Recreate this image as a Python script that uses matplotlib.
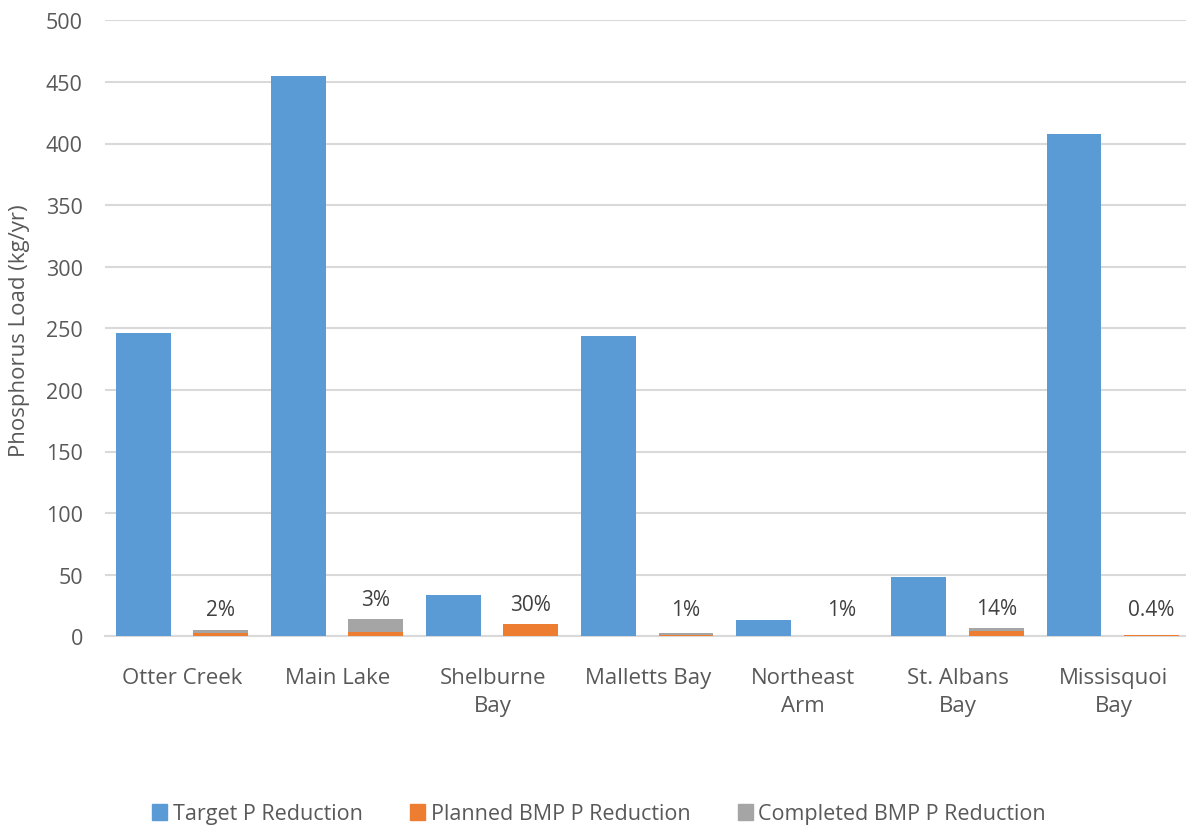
import matplotlib
matplotlib.use("Agg")
import matplotlib.pyplot as plt
from matplotlib.patches import Patch
import numpy as np

plt.rcParams["font.family"] = ["Open Sans", "DejaVu Sans"]

categories = ["Otter Creek", "Main Lake", "Shelburne\nBay", "Malletts Bay",
              "Northeast\nArm", "St. Albans\nBay", "Missisquoi\nBay"]
target = [246, 455, 33.5, 244, 13, 48.5, 408]
planned = [3.0, 3.6, 10.0, 1.3, 0.1, 4.5, 1.2]
completed = [2.0, 10.5, 0.0, 1.2, 0.05, 2.2, 0.0]
pct_labels = ["2%", "3%", "30%", "1%", "1%", "14%", "0.4%"]
yticks = [0, 50, 100, 150, 200, 250, 300, 350, 400, 450, 500]

BLUE = "#5B9BD5"
ORANGE = "#ED7D31"
GRAY = "#A5A5A5"
TEXT = "#595959"
GRID = "#D9D9D9"

W, H = 1186, 828
fig = plt.figure(figsize=(W / 100, H / 100), dpi=100)
ax = fig.add_axes([105 / W, 190.7 / H, 1081 / W, 616 / H])

x = np.arange(len(categories))
bw = 0.354
ax.bar(x - 0.254, target, bw, color=BLUE, zorder=3)
ax.bar(x + 0.245, planned, bw, color=ORANGE, linewidth=0, zorder=3)
ax.bar(x + 0.245, completed, bw, bottom=planned, color=GRAY, linewidth=0, zorder=3)

for xi, p, c, lab in zip(x, planned, completed, pct_labels):
    top = p + c
    ax.text(xi + 0.245, max(top + 7, 13.0), lab, ha="center", va="bottom",
            fontsize=15, color="#404040", zorder=4)

ax.set_xlim(-0.5, 6.468)
ax.set_ylim(0, 500)
ax.set_yticks(yticks)
ax.set_xticks(x)
ax.set_xticklabels(categories)
ax.yaxis.grid(True, color=GRID, linewidth=1.5, zorder=0)
ax.set_axisbelow(True)
for s in ["top", "right", "left"]:
    ax.spines[s].set_visible(False)
ax.spines["bottom"].set_color(GRID)
ax.spines["bottom"].set_linewidth(1.5)
ax.tick_params(axis="y", length=0, pad=16, labelsize=15.5, labelcolor=TEXT)
ax.tick_params(axis="x", length=0, pad=22, labelsize=16, labelcolor=TEXT)
for t in ax.get_xticklabels():
    t.set_linespacing(1.45)

fig.text(20 / W, 1 - 331 / H, "Phosphorus Load (kg/yr)", rotation=90,
         ha="center", va="center", fontsize=16, color=TEXT)

handles = [Patch(color=BLUE), Patch(color=ORANGE), Patch(color=GRAY)]
labels = ["Target P Reduction", "Planned BMP P Reduction", "Completed BMP P Reduction"]
fig.legend(handles, labels, loc="center", bbox_to_anchor=(599 / W, 13 / H),
           ncol=3, frameon=False, fontsize=15.5, labelcolor=TEXT,
           handlelength=0.7, handleheight=0.7, handletextpad=0.25,
           columnspacing=2.2)

fig.savefig("out.png", dpi=100)
